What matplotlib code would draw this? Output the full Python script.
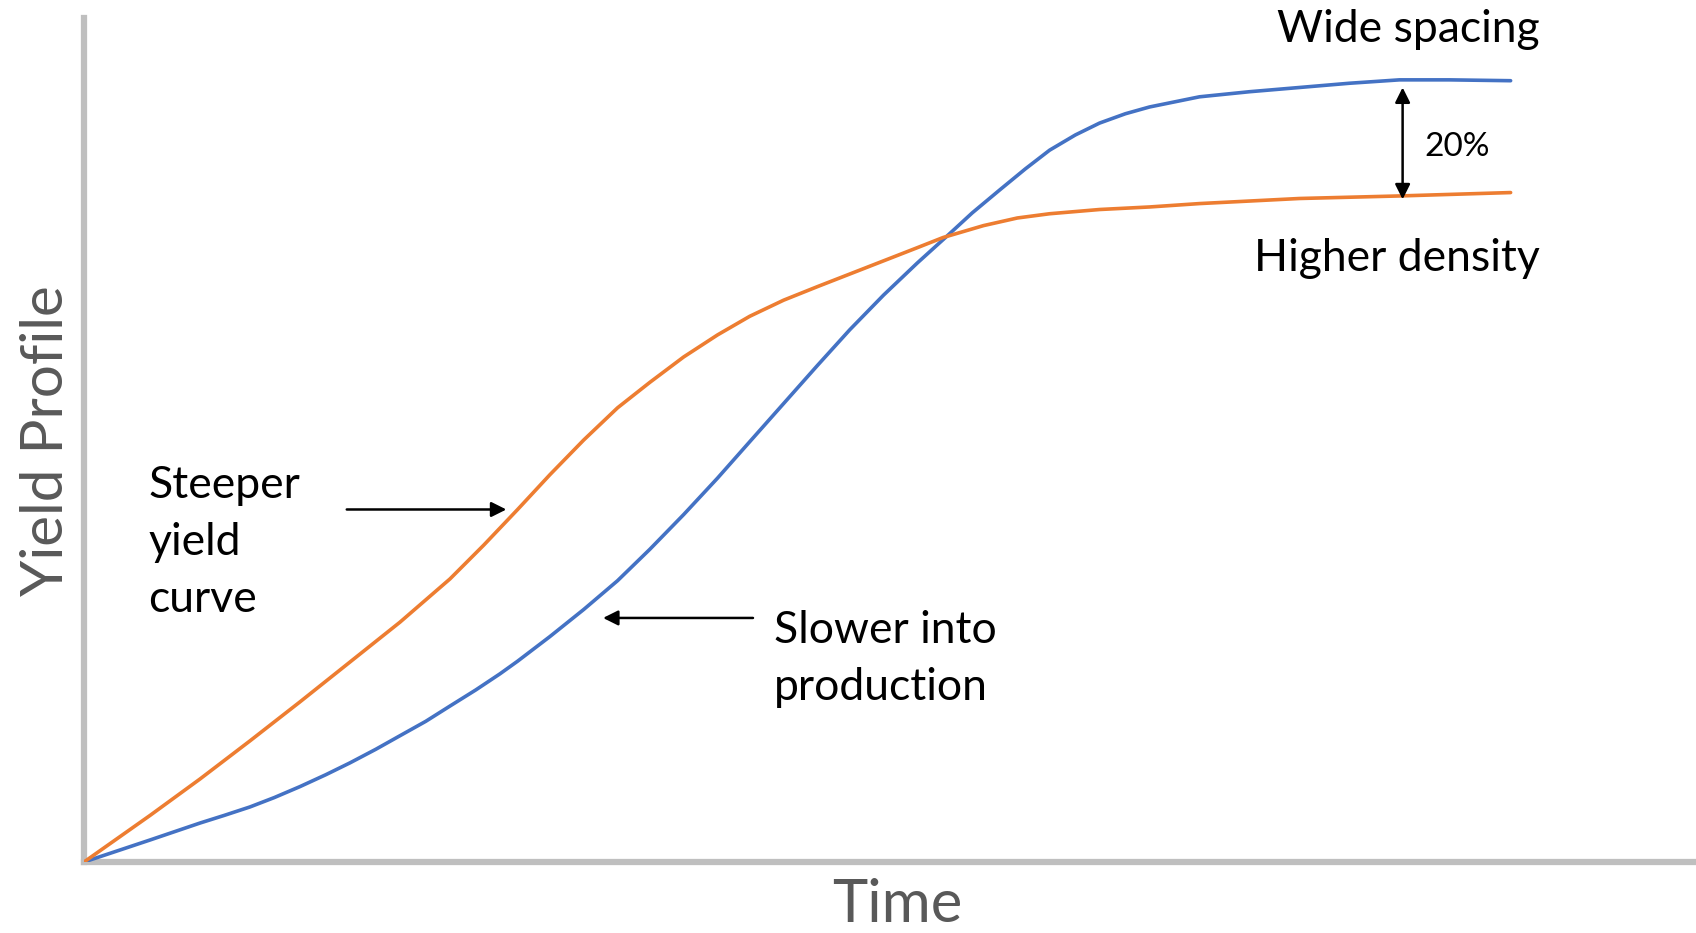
import matplotlib
matplotlib.use("Agg")
import matplotlib.pyplot as plt

# values (time and yield on a 0-100 scale)
wide_t = [0, 4.1, 7.2, 8.7, 10.3, 11.8, 13.4, 15.0, 16.5, 18.1, 19.6, 21.2, 22.7, 24.3,
          25.8, 26.9, 28.9, 31.0, 33.1, 35.1, 37.2, 39.3, 41.3, 43.4, 45.5, 47.5, 49.6,
          51.7, 53.5, 55.1, 56.8, 58.4, 59.9, 61.5, 63.0, 64.6, 66.1, 69.2, 72.3, 75.4,
          78.5, 81.6, 84.7, 88.5]
wide_y = [0, 2.6, 4.6, 5.5, 6.5, 7.6, 8.9, 10.3, 11.7, 13.3, 14.9, 16.6, 18.4, 20.3,
          22.2, 23.7, 26.6, 29.8, 33.2, 36.9, 41.0, 45.3, 49.6, 54.1, 58.6, 62.8, 66.9,
          70.7, 73.8, 76.6, 79.3, 81.8, 84.0, 85.8, 87.2, 88.3, 89.1, 90.3, 90.9, 91.4,
          91.9, 92.3, 92.3, 92.2]

dense_t = [0, 4.1, 7.2, 10.3, 13.4, 16.5, 19.6, 22.7, 24.8, 26.9, 28.9, 31.0, 33.1, 35.1,
           37.2, 39.3, 41.3, 43.4, 45.5, 48.6, 51.7, 53.3, 55.8, 57.9, 59.9, 63.0, 66.1,
           69.2, 75.4, 81.6, 88.5]
dense_y = [0, 5.5, 9.8, 14.3, 18.9, 23.6, 28.3, 33.4, 37.4, 41.6, 45.7, 49.8, 53.6, 56.6,
           59.6, 62.2, 64.4, 66.3, 67.9, 70.2, 72.5, 73.7, 75.1, 76.0, 76.5, 77.0, 77.3,
           77.7, 78.3, 78.6, 79.0]

gap_label = "20%"

plt.rcParams['font.family'] = ['Lato', 'DejaVu Sans']

W, H = 1696, 933
fig = plt.figure(figsize=(W / 100, H / 100), dpi=100)
ax = fig.add_axes([84 / W, (H - 862) / H, (W - 84) / W, (862 - 18) / H])
ax.set_xlim(0, 100)
ax.set_ylim(0, 99.6)

ax.plot(wide_t, wide_y, color='#4472c4', lw=2.6, solid_capstyle='round',
        solid_joinstyle='round', zorder=3)
ax.plot(dense_t, dense_y, color='#ed7d31', lw=2.6, solid_capstyle='round',
        solid_joinstyle='round', zorder=3)

for s in ['top', 'right']:
    ax.spines[s].set_visible(False)
for s in ['left', 'bottom']:
    ax.spines[s].set_color('#bfbfbf')
    ax.spines[s].set_linewidth(4.5)
ax.set_xticks([])
ax.set_yticks([])

# axis titles
fig.text(897 / W, 1 - 905 / H, 'Time', fontsize=43, color='#595959', ha='center', va='center')
fig.text(47 / W, 1 - 441 / H, 'Yield Profile', fontsize=42, color='#595959',
         ha='center', va='center', rotation=90)

# labels
ax.text(90.3, 96.8, 'Wide spacing', fontsize=32, ha='right', va='baseline')
ax.text(90.3, 69.7, 'Higher density', fontsize=32, ha='right', va='baseline')
ax.text(85.2, 84.4, gap_label, fontsize=24, ha='center', va='center')
for txt, yb in zip(['Steeper', 'yield', 'curve'], [43.0, 36.2, 29.5]):
    ax.text(4.0, yb, txt, fontsize=32, ha='left', va='baseline')
for txt, yb in zip(['Slower into', 'production'], [25.9, 19.1]):
    ax.text(42.8, yb, txt, fontsize=32, ha='left', va='baseline')

arrow = dict(arrowstyle='-|>,head_length=0.9,head_width=0.45', color='black', lw=1.8,
             shrinkA=0, shrinkB=0)
ax.annotate('', xy=(26.2, 41.6), xytext=(16.3, 41.6), arrowprops=arrow)
ax.annotate('', xy=(32.2, 28.8), xytext=(41.5, 28.8), arrowprops=arrow)
ax.annotate('', xy=(81.8, 91.4), xytext=(81.8, 78.2),
            arrowprops=dict(arrowstyle='<|-|>,head_length=0.9,head_width=0.45', color='black',
                            lw=1.8, shrinkA=0, shrinkB=0))

fig.savefig('out.png', dpi=100)
